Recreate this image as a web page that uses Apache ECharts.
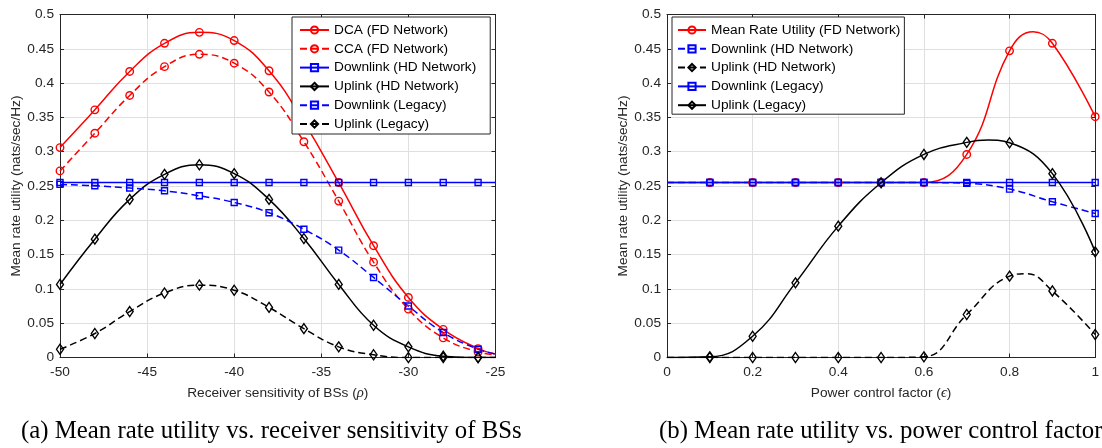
<!DOCTYPE html>
<html><head><meta charset="utf-8">
<script src="https://cdn.jsdelivr.net/npm/echarts@6/dist/echarts.min.js"></script>
<style>html,body{margin:0;padding:0;background:#fff}#c{width:1102px;height:448px}</style>
</head><body><div id="c"></div>
<script>
// ---------- Panel (a): receiver sensitivity ----------
const xA = [-50,-48,-46,-44,-42,-40,-38,-36,-34,-32,-30,-28,-26];
const xAEnd = -25;
const dcaA   = [0.306,0.361,0.417,0.458,0.474,0.462,0.418,0.343,0.255,0.163,0.0875,0.041,0.013];
const ccaA   = [0.272,0.327,0.382,0.424,0.442,0.429,0.387,0.3145,0.228,0.139,0.0705,0.0286,0.008];
const dlHdA  = [0.255,0.255,0.255,0.255,0.255,0.255,0.255,0.255,0.255,0.255,0.255,0.255,0.255];
const ulHdA  = [0.1065,0.1725,0.2305,0.267,0.281,0.268,0.2305,0.1735,0.1065,0.047,0.0155,0.002,0.0];
const dlLegA = [0.2523,0.2503,0.247,0.243,0.2357,0.226,0.211,0.187,0.1565,0.1167,0.075,0.0364,0.012];
const ulLegA = [0.012,0.035,0.067,0.094,0.1055,0.098,0.073,0.042,0.0155,0.004,0.0,0.0,0.0];
// curve end values at x = -25 (no marker)
const endA = {dca:0.005, cca:0.004, dlHd:0.255, ulHd:0.0, dlLeg:0.005, ulLeg:0.0};

// ---------- Panel (b): power control factor ----------
const xB = [0.1,0.2,0.3,0.4,0.5,0.6,0.7,0.8,0.9,1.0];
const xBStart = 0;
const fdB    = [0.255,0.255,0.255,0.255,0.255,0.255,0.296,0.447,0.458,0.351];
const dlHdB  = [0.255,0.255,0.255,0.255,0.255,0.255,0.2538,0.2455,0.227,0.210];
const ulHdB  = [0.0,0.0,0.0,0.0,0.0,0.001,0.0627,0.1186,0.097,0.0335];
const dlLegB = [0.255,0.255,0.255,0.255,0.255,0.255,0.255,0.255,0.255,0.255];
const ulLegB = [0.001,0.031,0.1088,0.1915,0.2547,0.296,0.3136,0.313,0.268,0.154];
// curve start values at x = 0 and peaks (no marker)
const startB = {fd:0.255, dlHd:0.255, ulHd:0.0, dlLeg:0.255, ulLeg:0.0};
const peakFdB = [0.855, 0.475];
const peakUlHdB = [0.84, 0.1222];
const peakUlLegB = [0.75, 0.317];

// ---------- Tick labels ----------
const yTicks = ['0','0.05','0.1','0.15','0.2','0.25','0.3','0.35','0.4','0.45','0.5'];
const xTicksA = ['-50','-45','-40','-35','-30','-25'];
const xTicksB = ['0','0.2','0.4','0.6','0.8','1'];

const namesA = ['DCA (FD Network)','CCA (FD Network)','Downlink (HD Network)','Uplink (HD Network)','Downlink (Legacy)','Uplink (Legacy)'];
const namesB = ['Mean Rate Utility (FD Network)','Downlink (HD Network)','Uplink (HD Network)','Downlink (Legacy)','Uplink (Legacy)'];

function build(xs, ys, extra) {
  const pts = xs.map((x, i) => ({ value: [x, ys[i]] }));
  extra.forEach(p => pts.push({ value: p, symbol: 'none' }));
  pts.sort((a, b) => a.value[0] - b.value[0]);
  return pts;
}
const SYM = { o: ['circle', 7.5], s: ['rect', 6], d: ['diamond', [7, 10]] };
function ser(name, data, color, mk, dashed, ai) {
  return {
    type: 'line', name: name, data: data,
    xAxisIndex: ai, yAxisIndex: ai,
    smooth: 0.45,
    symbol: SYM[mk][0], symbolSize: SYM[mk][1], showAllSymbol: true,
    lineStyle: { color: color, width: 1.5, type: dashed ? [7, 4] : 'solid' },
    itemStyle: { color: 'rgba(255,255,255,0)', borderColor: color, borderWidth: 1.4 },
    emphasis: { disabled: true },
    animation: false
  };
}
const R = '#ff0000', B = '#0000ff', K = '#000000';
const series = [
  ser('A:' + namesA[0], build(xA, dcaA, [[xAEnd, endA.dca]]), R, 'o', false, 0),
  ser('A:' + namesA[1], build(xA, ccaA, [[xAEnd, endA.cca]]), R, 'o', true, 0),
  ser('A:' + namesA[2], build(xA, dlHdA, [[xAEnd, endA.dlHd]]), B, 's', false, 0),
  ser('A:' + namesA[3], build(xA, ulHdA, [[xAEnd, endA.ulHd]]), K, 'd', false, 0),
  ser('A:' + namesA[4], build(xA, dlLegA, [[xAEnd, endA.dlLeg]]), B, 's', true, 0),
  ser('A:' + namesA[5], build(xA, ulLegA, [[xAEnd, endA.ulLeg]]), K, 'd', true, 0),
  ser('B:' + namesB[0], build(xB, fdB, [[xBStart, startB.fd], peakFdB]), R, 'o', false, 2),
  ser('B:' + namesB[1], build(xB, dlHdB, [[xBStart, startB.dlHd]]), B, 's', true, 2),
  ser('B:' + namesB[2], build(xB, ulHdB, [[xBStart, startB.ulHd], peakUlHdB]), K, 'd', true, 2),
  ser('B:' + namesB[3], build(xB, dlLegB, [[xBStart, startB.dlLeg]]), B, 's', false, 2),
  ser('B:' + namesB[4], build(xB, ulLegB, [[xBStart, startB.ulLeg], peakUlLegB]), K, 'd', false, 2)
];

const FONT = 'Liberation Sans';
const AX = '#262626';
const FS = 13.7;
function xAxes(gi, min, max, interval, labels, name) {
  return [{
    type: 'value', gridIndex: gi, min: min, max: max, interval: interval, position: 'bottom',
    axisLine: { show: true, onZero: false, lineStyle: { color: AX, width: 1 } },
    axisTick: { show: true, inside: true, length: 4, lineStyle: { color: AX } },
    axisLabel: { show: true, color: AX, fontFamily: FONT, fontSize: FS, margin: 8, showMaxLabel: true, showMinLabel: true,
      formatter: v => labels[Math.round((v - min) / interval)] },
    splitLine: { show: true, lineStyle: { color: '#dfdfdf', width: 1 } },
    name: name, nameLocation: 'middle', nameGap: 28,
    nameTextStyle: { color: AX, fontFamily: FONT, fontSize: FS, rich: { i: { fontFamily: 'Liberation Serif', fontStyle: 'italic', fontSize: FS + 1, color: AX } } }
  }, {
    type: 'value', gridIndex: gi, min: min, max: max, interval: interval, position: 'top',
    axisLine: { show: true, onZero: false, lineStyle: { color: AX, width: 1 } },
    axisTick: { show: true, inside: true, length: 4, lineStyle: { color: AX } },
    axisLabel: { show: false }, splitLine: { show: false }
  }];
}
function yAxes(gi) {
  return [{
    type: 'value', gridIndex: gi, min: 0, max: 0.5, interval: 0.05, position: 'left',
    axisLine: { show: true, onZero: false, lineStyle: { color: AX, width: 1 } },
    axisTick: { show: true, inside: true, length: 4, lineStyle: { color: AX } },
    axisLabel: { show: true, color: AX, fontFamily: FONT, fontSize: FS, margin: 6,
      formatter: v => yTicks[Math.round(v / 0.05)] },
    splitLine: { show: true, lineStyle: { color: '#dfdfdf', width: 1 } },
    name: 'Mean rate utility (nats/sec/Hz)', nameLocation: 'middle', nameGap: 32,
    nameTextStyle: { color: AX, fontFamily: FONT, fontSize: FS }
  }, {
    type: 'value', gridIndex: gi, min: 0, max: 0.5, interval: 0.05, position: 'right',
    axisLine: { show: true, onZero: false, lineStyle: { color: AX, width: 1 } },
    axisTick: { show: true, inside: true, length: 4, lineStyle: { color: AX } },
    axisLabel: { show: false }, splitLine: { show: false }
  }];
}
function legend(names, prefix, left, top, padding, iw) {
  return {
    data: names.map(n => prefix + n), orient: 'vertical', left: left, top: top,
    backgroundColor: '#fff', borderColor: AX, borderWidth: 1, padding: padding,
    itemWidth: iw, itemHeight: 9, itemGap: 4.8,
    textStyle: { color: '#000', fontFamily: FONT, fontSize: FS, lineHeight: 14 },
    formatter: n => n.slice(2), selectedMode: false, z: 10
  };
}

const option = {
  backgroundColor: '#fff',
  animation: false,
  grid: [
    { left: 60, top: 14.5, width: 435.5, height: 343 },
    { left: 667, top: 14.5, width: 434, height: 343 }
  ],
  xAxis: [].concat(
    xAxes(0, -50, -25, 5, xTicksA, 'Receiver sensitivity of BSs ({i|ρ})'),
    xAxes(1, 0, 1, 0.2, xTicksB, 'Power control factor ({i|ϵ})')
  ),
  yAxis: [].concat(yAxes(0), yAxes(1)),
  legend: [
    legend(namesA, 'A:', 292, 17, [6, 14, 3, 7], 29),
    legend(namesB, 'B:', 672, 17, [6, 4, 2, 5], 28)
  ],
  graphic: [
    { type: 'text', left: 21, top: 419, style: { text: '(a) Mean rate utility vs. receiver sensitivity of BSs', font: '24.8px "Liberation Serif"', fill: '#000' } },
    { type: 'text', left: 659, top: 419, style: { text: '(b) Mean rate utility vs. power control factor', font: '24.8px "Liberation Serif"', fill: '#000' } }
  ],
  series: series
};
const chart = echarts.init(document.getElementById('c'), null, { renderer: 'canvas' });
chart.setOption(option);
</script>
</body></html>
